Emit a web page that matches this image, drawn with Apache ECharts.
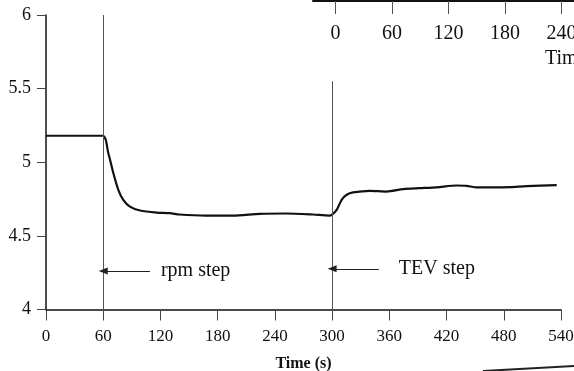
<!DOCTYPE html>
<html>
<head>
<meta charset="utf-8">
<script src="https://cdn.jsdelivr.net/npm/echarts@6/dist/echarts.min.js"></script>
<style>
html,body{margin:0;padding:0;background:#fff;}
#c{width:574px;height:371px;}
</style>
</head>
<body>
<div id="c"></div>
<script>
// Data
const time = [0, 59.5, 65.3, 70.6, 75.8, 81, 88, 98.6, 116, 130, 140, 168, 196, 224, 252, 280, 297, 299.6, 304.8, 310, 315.3, 322, 339.7, 357, 374.6, 392, 409.7, 430.6, 441, 451.6, 469, 486.5, 504, 535.5];
const value = [5.18, 5.18, 5.063, 4.927, 4.813, 4.745, 4.699, 4.672, 4.658, 4.654, 4.645, 4.638, 4.638, 4.65, 4.652, 4.645, 4.638, 4.643, 4.677, 4.745, 4.779, 4.795, 4.806, 4.801, 4.818, 4.824, 4.83, 4.842, 4.84, 4.829, 4.829, 4.831, 4.838, 4.845];
const stepTimes = [60, 300];
const stepTops = [6, 5.55];
const annotations = ['rpm step', 'TEV step'];
const arrowFrom = [109, 349];
const arrowLevel = [4.262, 4.276];
const textStart = [120.5, 370];
const insetTicks = [0, 60, 120, 180, 240, 300];

const FONT = '"Liberation Serif", "DejaVu Serif", serif';
const chart = echarts.init(document.getElementById('c'), null, {renderer: 'canvas'});

const seriesData = time.map((t, i) => [t, value[i]]);

const markLines = [];
stepTimes.forEach((t, i) => {
  markLines.push([
    {coord: [t, stepTops[i]], symbol: 'none', lineStyle: {color: '#555', width: 1, type: 'solid'}},
    {coord: [t, 4], symbol: 'none'}
  ]);
  markLines.push([
    {coord: [arrowFrom[i], arrowLevel[i]], symbol: 'none', lineStyle: {color: '#222', width: 1.2, type: 'solid'}},
    {coord: [t, arrowLevel[i]], symbol: 'triangle', symbolSize: [7, 9], symbolRotate: 90}
  ]);
});

const markPoints = annotations.map((txt, i) => ({
  coord: [textStart[i], arrowLevel[i]],
  symbol: 'circle', symbolSize: 0,
  label: {show: true, position: 'right', distance: 0, formatter: txt, color: '#111', fontFamily: FONT, fontSize: 20}
}));

chart.setOption({
  animation: false,
  backgroundColor: '#fff',
  grid: [
    {left: 46, right: 13, top: 15, bottom: 61.5, outerBoundsMode: 'none', containLabel: false},
    {left: 313, width: 305, top: 0, height: 1, outerBoundsMode: 'none', containLabel: false}
  ],
  xAxis: [
    {
      type: 'value', gridIndex: 0, min: 0, max: 540, interval: 60,
      name: 'Time (s)', nameLocation: 'middle', nameGap: 46,
      nameTextStyle: {fontFamily: FONT, fontSize: 16, fontWeight: 'bold', color: '#111'},
      axisLine: {show: true, onZero: false, lineStyle: {color: '#111', width: 1.5}},
      axisTick: {show: true, length: 11, lineStyle: {color: '#444', width: 1}},
      axisLabel: {margin: 19, fontFamily: FONT, fontSize: 17, color: '#111'},
      splitLine: {show: false}
    },
    {
      type: 'value', gridIndex: 1, min: -24, max: 300, position: 'bottom',
      axisLine: {show: true, onZero: false, lineStyle: {color: '#111', width: 2}},
      axisTick: {show: true, length: 13, customValues: insetTicks, lineStyle: {color: '#555', width: 1}},
      axisLabel: {margin: 23, customValues: insetTicks, fontFamily: FONT, fontSize: 20, color: '#111'},
      splitLine: {show: false}
    }
  ],
  yAxis: [
    {
      type: 'value', gridIndex: 0, min: 4, max: 6, interval: 0.5,
      axisLine: {show: true, lineStyle: {color: '#111', width: 1.5}},
      axisTick: {show: true, length: 9, lineStyle: {color: '#444', width: 1}},
      axisLabel: {margin: 15, fontFamily: FONT, fontSize: 18, color: '#111'},
      splitLine: {show: false}
    },
    {type: 'value', gridIndex: 1, show: false, min: 0, max: 1}
  ],
  series: [{
    type: 'line',
    xAxisIndex: 0, yAxisIndex: 0,
    data: seriesData,
    showSymbol: false,
    smooth: 0.25,
    lineStyle: {color: '#111', width: 2.2},
    markLine: {silent: true, animation: false, label: {show: false}, data: markLines},
    markPoint: {silent: true, animation: false, data: markPoints}
  }],
  graphic: [
    {type: 'text', left: 545, top: 49, style: {text: 'Time (s)', font: '20px ' + FONT, fill: '#111'}},
    {type: 'line', shape: {x1: 483, y1: 371, x2: 574, y2: 366}, style: {stroke: '#222', lineWidth: 2}}
  ]
});
</script>
</body>
</html>
